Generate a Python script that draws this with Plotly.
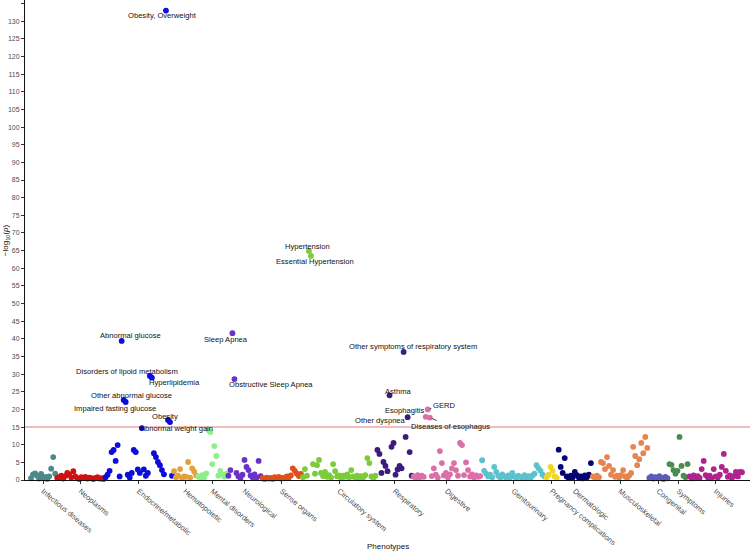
import plotly.graph_objects as go

categories = ["Infectious diseases", "Neoplasms", "Endocrine/metabolic", "Hematopoietic",
              "Mental disorders", "Neurological", "Sense organs", "Circulatory system",
              "Respiratory", "Digestive", "Genitourinary", "Pregnancy complications",
              "Dermatologic", "Musculoskeletal", "Congenital", "Symptoms", "Injuries"]

colors = ["#4b8a8b", "#cf1111", "#0c0cdc", "#e3a13a", "#8eee8a", "#6a32c8", "#e0501a",
          "#7ccc3a", "#3c1a7e", "#dc6fa8", "#5cc2cc", "#f0d628", "#040474", "#e8844e",
          "#5c5cbe", "#4a8c4c", "#b0228e"]

infectious = [0.5, 1.6, 1.9, 1.2, 0.4, 1.7, 0.6, 0.9, 0.3, 1.0, 3.2, 6.5, 1.8]
neoplasms = [0.6, 0.8, 1.2, 0.4, 1.1, 2.0, 1.5, 0.7, 2.5, 1.0, 0.5, 0.3, 0.8, 0.6, 0.9,
             0.4, 0.7, 0.5, 0.3, 0.6, 0.8, 0.4, 0.5, 0.3]
endocrine = [0.8, 1.5, 2.6, 7.9, 8.5, 5.4, 9.9, 1.0, 39.4, 22.7, 22.1, 1.5, 0.7, 2.0, 8.5,
             7.9, 3.0, 2.0, 14.7, 3.0, 1.2, 2.0, 29.5, 29.0, 7.6, 6.5, 5.1, 4.2, 2.8, 1.6,
             133.0, 17.0, 16.4, 1.2]
hematopoietic = [2.5, 0.8, 1.2, 3.1, 0.6, 1.0, 0.9, 5.1, 0.7, 3.3, 2.4, 1.3]
mental = [1.0, 0.6, 1.4, 0.8, 1.9, 14.2, 13.6, 4.5, 9.6, 6.8, 1.2, 2.6, 1.5, 0.9, 1.7]
neurological = [1.2, 2.8, 41.6, 28.6, 2.0, 1.0, 0.6, 1.5, 5.7, 3.7, 2.8, 1.3, 0.8, 1.6, 0.7,
                5.4, 1.1]
sense = [0.5, 0.3, 0.7, 0.4, 0.6, 0.3, 0.8, 0.5, 0.9, 0.4, 0.6, 0.5, 1.0, 0.7, 1.3, 3.3,
         2.6, 1.8, 1.1, 1.7]
circulatory = [0.8, 3.1, 1.2, 64.9, 63.5, 4.5, 1.8, 4.2, 5.7, 2.0, 1.1, 2.3, 0.9, 1.4, 0.7,
               4.5, 2.5, 1.0, 1.3, 0.6, 1.2, 0.9, 1.6, 0.8, 2.8, 1.0, 0.7, 1.2, 0.5, 1.1,
               0.8, 1.4, 6.2, 4.8, 1.0, 0.6, 1.2]
respiratory = [8.5, 7.4, 2.0, 5.1, 4.0, 2.5, 24.0, 9.4, 10.5, 1.5, 3.0, 4.0, 3.3, 36.3,
               12.2, 17.8, 7.9, 1.2]
digestive = [1.0, 0.6, 1.4, 0.8, 1.2, 0.9, 17.9, 20.0, 17.7, 1.1, 3.3, 1.5, 0.7, 8.2, 4.8,
             1.3, 2.0, 0.8, 1.6, 3.3, 4.8, 2.8, 1.2, 10.5, 9.9, 1.4, 5.0, 2.8, 1.0, 1.6,
             0.7, 1.3, 0.9, 1.1]
genitourinary = [5.6, 2.6, 1.8, 1.0, 1.5, 0.8, 3.7, 2.3, 1.2, 0.7, 1.6, 1.0, 0.6, 1.3, 0.8,
                 2.0, 1.0, 0.6, 1.2, 0.9, 0.5, 1.4, 0.8, 1.1, 0.6, 1.3, 1.8, 4.2, 3.3, 2.6,
                 1.5, 1.0]
pregnancy = [0.8, 1.5, 3.7, 2.6, 1.0, 0.6]
dermatologic = [8.6, 3.7, 2.0, 6.2, 1.0, 0.6, 1.2, 0.8, 2.3, 1.4, 0.7, 1.0, 0.5, 1.3, 0.8,
                1.5, 4.8]
musculoskeletal = [1.0, 0.6, 1.2, 0.8, 5.1, 4.8, 3.1, 6.5, 4.0, 1.5, 2.8, 0.9, 1.2, 0.7,
                   1.4, 2.8, 1.0, 0.6, 1.3, 2.0, 9.4, 6.8, 4.2, 5.9, 10.5, 7.6, 12.2, 9.1]
congenital = [0.6, 1.0, 0.4, 0.8, 0.5, 1.1, 0.7, 0.3, 0.9, 0.5]
symptoms = [4.5, 4.3, 2.8, 1.8, 2.6, 12.2, 4.0, 1.2, 0.8, 4.5]
injuries = [1.0, 0.5, 1.3, 0.7, 1.1, 0.6, 3.1, 5.4, 1.4, 0.8, 1.2, 0.5, 3.1, 1.0, 0.7, 1.5,
            3.7, 7.4, 2.6, 0.9, 1.3, 0.6, 1.1, 2.3, 1.0, 2.3, 2.2]

series = [infectious, neoplasms, endocrine, hematopoietic, mental, neurological, sense,
          circulatory, respiratory, digestive, genitourinary, pregnancy, dermatologic,
          musculoskeletal, congenital, symptoms, injuries]

# labelled phenotypes: (text, category, position within category)
label_text = ["Obesity, Overweight", "Abnormal glucose", "Other abnormal glucose",
              "Impaired fasting glucose", "Disorders of lipoid metabolism", "Hyperlipidemia",
              "Obesity", "Abnormal weight gain", "Sleep Apnea", "Obstructive Sleep Apnea",
              "Hypertension", "Essential Hypertension", "Other symptoms of respiratory system",
              "Asthma", "Other dyspnea", "Esophagitis", "GERD", "Diseases of esophagus"]
label_cat = ["Endocrine/metabolic"] * 8 + ["Neurological"] * 2 + ["Circulatory system"] * 2 + \
            ["Respiratory"] * 3 + ["Digestive"] * 3
label_pos = [30, 8, 9, 10, 22, 23, 31, 18, 2, 3, 3, 4, 13, 6, 15, 6, 7, 8]
# label offsets in pixels (dx right, dy down) and whether a leader segment is drawn
label_off = [(-3, 4.5, False), (9, -5, False), (8, -4, False), (-11, 6, False),
             (-23, -4, False), (23, 5, False), (-3, -4, False), (35, 0, False),
             (-6, 6, False), (37, 5, False), (-1, -4, False), (4, 6, False),
             (9, -5, False), (9, -4, False), (-27, 3, False), (-21, -6, False),
             (16, -4, True), (21, 9, True)]

FONT = "Liberation Sans, Arial, sans-serif"

fig = go.Figure()
starts = []
idx = 0
tickvals = []
for name, vals, col in zip(categories, series, colors):
    xs = list(range(idx, idx + len(vals)))
    starts.append(idx)
    tickvals.append((xs[0] + xs[-1]) / 2)
    fig.add_trace(go.Scatter(x=xs, y=vals, mode="markers", name=name,
                             marker=dict(color=col, size=5.8, line=dict(width=0)),
                             cliponaxis=False, showlegend=False))
    idx += len(vals)

fig.add_shape(type="line", xref="paper", x0=0, x1=1, yref="y", y0=15, y1=15,
              line=dict(color="#eca6a6", width=1.5), layer="below")

for txt, cat, pos, (dx, dy, arrow) in zip(label_text, label_cat, label_pos, label_off):
    ci = categories.index(cat)
    xv = starts[ci] + pos
    yv = series[ci][pos]
    if arrow:
        fig.add_annotation(x=xv, y=yv, text=txt, showarrow=True, arrowhead=0,
                           arrowwidth=0.8, arrowcolor="#222", ax=dx, ay=dy, standoff=2,
                           font=dict(family=FONT, size=7.6, color="#111"))
    else:
        fig.add_annotation(x=xv, y=yv, text=txt, showarrow=False, xshift=dx, yshift=-dy,
                           font=dict(family=FONT, size=7.6, color="#111"))

fig.add_annotation(xref="paper", yref="paper", x=0.5, y=-0.1375, text="Phenotypes",
                   showarrow=False, yanchor="middle",
                   font=dict(family=FONT, size=8, color="#111"))
fig.add_annotation(xref="paper", yref="paper", x=-0.026, y=0.5,
                   text="\u2212log<sub>10</sub>(<i>p</i>)", textangle=-90,
                   showarrow=False, xanchor="center", yanchor="middle",
                   font=dict(family=FONT, size=8, color="#111"))

fig.update_layout(
    width=750, height=552, autosize=False,
    margin=dict(l=25, r=0, t=0, b=72, autoexpand=False),
    plot_bgcolor="white", paper_bgcolor="white",
    font=dict(family=FONT),
    xaxis=dict(range=[-3, 357], tickvals=tickvals, ticktext=categories, tickangle=40,
               ticks="outside", ticklen=3, tickcolor="#333", showline=True,
               linecolor="#111", linewidth=1, showgrid=False, zeroline=False,
               automargin=False,
               tickfont=dict(family=FONT, size=7.5, color="#4d4d4d")),
    yaxis=dict(range=[0, 136], tickvals=list(range(0, 136, 5)), ticks="outside",
               ticklen=3, tickcolor="#333", showline=True, linecolor="#111",
               linewidth=1, showgrid=False, zeroline=False, automargin=False,
               tickfont=dict(family=FONT, size=7, color="#4d4d4d")),
)

fig.write_html("out.html", config={"displayModeBar": False},
               post_script="document.body.style.margin='0';"
                           "document.body.style.overflow='hidden';")
